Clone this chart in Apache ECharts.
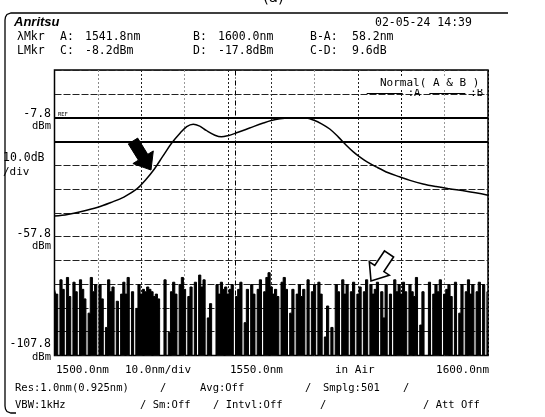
<!DOCTYPE html>
<html><head><meta charset="utf-8">
<script src="https://cdn.jsdelivr.net/npm/echarts@6/dist/echarts.min.js"></script>
<style>html,body{margin:0;padding:0;background:#fff}#c{width:545px;height:417px}</style>
</head><body><div id="c"></div>
<script>
// ---- axes ----
const xMin = 1500, xMax = 1600, xStep = 10;
const yMin = -107.8, yMax = 12.2, yStep = 10;

// ---- trace A : smooth spectrum (nm, dBm) ----
const curveWavelength = [1500,1503,1506,1510,1513,1516,1519,1521,1523,1525,1527,1529,1530.5,1532,1533.5,1535,1537,1538.5,1540,1542,1545,1548,1550,1552,1555,1558,1560,1561.5,1563.5,1565.5,1567.3,1569,1570.4,1572,1574.2,1577,1579.6,1582,1585,1588,1591,1595,1600];
const curveLevel      = [-49.2,-48.5,-47.4,-45.5,-43.5,-41.2,-37.8,-34.0,-29.5,-24.0,-18.6,-14.3,-11.6,-10.6,-11.4,-13.2,-15.2,-15.9,-15.4,-14.2,-12.2,-10.2,-9.0,-8.3,-7.9,-8.0,-9.0,-10.3,-12.6,-16.0,-19.4,-22.3,-24.3,-26.3,-28.5,-31.0,-32.7,-34.2,-35.7,-36.8,-37.7,-38.8,-40.4];

// ---- trace B : noise floor, sampled every 0.5 nm from 1500 nm (dBm, -108 = below screen) ----
const noiseStart = 1500, noiseStep = 0.5;
const noiseLevel = [
-80,-82,-108,-76,-80,-108,-75,-83,-108,-77,
-81,-108,-76,-80,-84,-108,-90,-75,-81,-78,
-108,-78,-84,-108,-96,-76,-81,-79,-108,-85,
-108,-82,-77,-82,-75,-108,-81,-108,-88,-78,
-82,-80,-81,-79,-80,-81,-83,-82,-84,-108,
-108,-76,-108,-98,-81,-77,-82,-108,-78,-75,
-80,-108,-83,-79,-108,-77,-108,-74,-79,-76,
-108,-92,-86,-108,-108,-78,-82,-77,-80,-79,
-82,-80,-78,-108,-83,-80,-77,-108,-94,-80,
-108,-78,-82,-108,-80,-76,-108,-81,-75,-73,
-79,-82,-80,-83,-108,-77,-75,-80,-108,-90,
-80,-108,-82,-78,-83,-80,-108,-76,-108,-81,
-78,-108,-77,-82,-108,-100,-87,-108,-96,-108,
-78,-81,-108,-76,-82,-78,-108,-81,-77,-108,
-82,-79,-108,-81,-76,-108,-78,-82,-80,-77,
-108,-81,-92,-78,-108,-82,-108,-76,-81,-78,
-82,-77,-81,-108,-78,-81,-83,-75,-108,-95,
-81,-108,-108,-77,-108,-82,-78,-81,-76,-108,
-82,-80,-78,-83,-108,-77,-108,-90,-78,-108,
-81,-76,-82,-78,-108,-81,-77,-108,-78,-108,
-81];

// ---- markers ----
const markerA = 1541.8, markerB = 1600.0, markerC = -8.2, markerD = -17.8, refLevel = -7.8;

// ---- texts ----
const titleText = "(a)";
const brandText = "Anritsu";
const dateText = "02-05-24 14:39";
const headerRow1 = ["λMkr","A:","1541.8nm","B:","1600.0nm","B-A:","58.2nm"];
const headerRow2 = ["LMkr","C:","-8.2dBm","D:","-17.8dBm","C-D:","9.6dB"];
const yTickValues = [-7.8, -57.8, -107.8];
const yTickLabels = ["-7.8", "-57.8", "-107.8"];
const yUnitLabel = "dBm";
const yScaleLabel = ["10.0dB", "/div"];
const xBottomLabels = ["1500.0nm","10.0nm/div","1550.0nm","in Air","1600.0nm"];
const footerRow1 = ["Res:1.0nm(0.925nm)","/","Avg:Off","/","Smplg:501","/"];
const footerRow2 = ["VBW:1kHz","/ Sm:Off","/ Intvl:Off","/","/ Att Off"];
const legendTitle = "Normal( A & B )";
const seriesNames = [":A", ":B"];

const noiseData = noiseLevel.map((v, i) => [noiseStart + i * noiseStep, v]);
const curveData = curveWavelength.map((w, i) => [w, curveLevel[i]]);

const MONO = "'DejaVu Sans Mono', 'Liberation Mono', monospace";
const chart = echarts.init(document.getElementById('c'), null, {renderer: 'canvas'});

const G = {left: 54.5, top: 70, width: 433.5, height: 285.5};

chart.setOption({
  animation: false,
  backgroundColor: '#fff',
  grid: {left: G.left, top: G.top, width: G.width, height: G.height, show: true, borderColor: '#000', borderWidth: 1.5, backgroundColor: 'transparent'},
  legend: {
    data: seriesNames, right: 62, top: 88, padding: 0, itemGap: 9, itemWidth: 36, itemHeight: 1.2,
    icon: 'rect', selectedMode: false,
    textStyle: {fontFamily: MONO, fontSize: 10.5, color: '#000', padding: [0,0,0,0]}
  },
  xAxis: {
    type: 'value', min: xMin, max: xMax, interval: xStep,
    axisLine: {show: false}, axisTick: {show: false}, axisLabel: {show: false},
    splitLine: {show: true, lineStyle: {color: ['#000','#888','#222','#999','#222','#333','#999','#222','#111','#999','#000'], width: 1, type: [2,2]}}
  },
  yAxis: {
    type: 'value', min: yMin, max: yMax, interval: yStep,
    axisLine: {show: false}, axisTick: {show: false}, axisLabel: {show: false},
    splitLine: {show: true, lineStyle: {color: '#222', width: 1, type: [7,2]}}
  },
  series: [
    {
      name: seriesNames[0], type: 'line', data: curveData, smooth: 0.35, symbol: 'none',
      lineStyle: {color: '#000', width: 1.5}, itemStyle: {color: '#000'}, z: 5,
      markLine: {
        silent: true, symbol: 'none', label: {show: false},
        data: [
          {yAxis: refLevel, lineStyle: {color: '#000', width: 2, type: 'solid'}},
          {yAxis: markerD, lineStyle: {color: '#000', width: 2, type: 'solid'}},
          {xAxis: markerA, lineStyle: {color: '#000', width: 1, type: [5,2,1,2]}}
        ]
      }
    },
    {
      name: seriesNames[1], type: 'line', data: noiseData, step: 'middle', symbol: 'none',
      lineStyle: {color: '#000', width: 1}, itemStyle: {color: '#000'},
      areaStyle: {color: '#000', opacity: 1, origin: 'start'}, z: 4
    }
  ]
});

function arrowPts(tail, tip, shaftW, headW, headL) {
  const dx = tip[0]-tail[0], dy = tip[1]-tail[1];
  const L = Math.hypot(dx, dy), ux = dx/L, uy = dy/L, nx = -uy, ny = ux;
  const neck = [tip[0]-ux*headL, tip[1]-uy*headL];
  const p = (b, s) => [b[0]+nx*s, b[1]+ny*s];
  return [p(tail, shaftW/2), p(neck, shaftW/2), p(neck, headW/2), tip, p(neck, -headW/2), p(neck, -shaftW/2), p(tail, -shaftW/2)];
}

const g = [];
const txt = (x, y, text, size, opts) => g.push(Object.assign({type: 'text', x: x, y: y, z: 20,
  style: Object.assign({text: text, fontFamily: MONO, fontSize: size, fill: '#000', verticalAlign: 'middle', align: 'left'}, opts || {})}));

// outer frame (bracket)
g.push({type: 'polyline', z: 1, shape: {points: [[508,13],[11,13],[7,14.5],[5.5,17],[5,20],[5,406],[5.5,409],[7,411.5],[11,413],[16,413]]},
  style: {fill: null, stroke: '#000', lineWidth: 1.3}});
txt(263, -2, titleText, 15, {fontFamily: "'DejaVu Sans', sans-serif"});
txt(14, 22, brandText, 13, {fontFamily: "'Liberation Sans', sans-serif", fontWeight: 'bold', fontStyle: 'italic'});
txt(375, 23, dateText, 11.5);
const headerX = [17, 60, 85, 193, 218, 310, 352];
headerRow1.forEach((t, i) => txt(headerX[i], 37, t, 11.5));
headerRow2.forEach((t, i) => txt(headerX[i], 51, t, 11.5));

// y labels via axis scale
const yOff = [[-4, 9], [-3, 10], [-11, 2]];
yTickValues.forEach((v, i) => {
  const py = chart.convertToPixel({gridIndex: 0}, [xMin, v])[1];
  txt(51, py + yOff[i][0], yTickLabels[i], 11.5, {align: 'right'});
  txt(51, py + yOff[i][1], yUnitLabel, 10.5, {align: 'right'});
});
txt(3, 158, yScaleLabel[0], 11.5);
txt(3, 172, yScaleLabel[1], 11);
const refPy = chart.convertToPixel({gridIndex: 0}, [xMin, refLevel])[1];
txt(58, refPy - 3, 'REF', 5.5);

// x labels
const xLabX = [56, 125, 230, 335, 489];
xBottomLabels.forEach((t, i) => txt(xLabX[i], 370, t, 11, i === 4 ? {align: 'right'} : {}));
const f1X = [15, 160, 200, 305, 323, 403];
footerRow1.forEach((t, i) => txt(f1X[i], 388, t, 10.5));
const f2X = [15, 140, 213, 320, 423];
footerRow2.forEach((t, i) => txt(f2X[i], 405, t, 10.5));

// legend title
g.push({type: 'rect', z: 19, shape: {x: 378, y: 77, width: 108, height: 12}, style: {fill: '#fff'}});
txt(380, 83, legendTitle, 11);

// arrows
g.push({type: 'polygon', z: 21, shape: {points: arrowPts([133, 141], [151, 170], 11, 24, 15)}, style: {fill: '#000', stroke: '#000', lineWidth: 1}});
g.push({type: 'polygon', z: 21, shape: {points: arrowPts([389, 254], [371, 281], 11, 24, 15)}, style: {fill: '#fff', stroke: '#000', lineWidth: 1.6}});

chart.setOption({graphic: g});
</script></body></html>
